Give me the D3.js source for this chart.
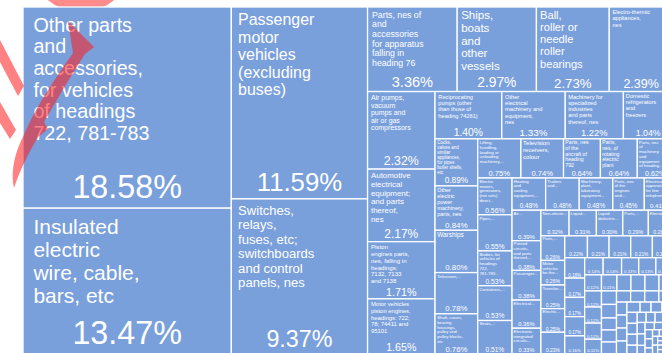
<!DOCTYPE html>
<html>
<head>
<meta charset="utf-8">
<script src="https://cdn.jsdelivr.net/npm/d3@7"></script>
<style>
  html, body { margin: 0; padding: 0; background: #fff; overflow: hidden; }
  svg { display: block; }
</style>
</head>
<body>
<svg id="chart" width="662" height="353"></svg>
<script>
// Export shares by product (percent of total)
const products = [
  "Other parts and accessories, for vehicles of headings 722, 781-783",
  "Insulated electric wire, cable, bars, etc",
  "Passenger motor vehicles (excluding buses)",
  "Switches, relays, fuses, etc; switchboards and control panels, nes",
  "Parts, nes of and accessories for apparatus falling in heading 76",
  "Ships, boats and other vessels",
  "Ball, roller or needle roller bearings",
  "Electro-thermic appliances, nes",
  "Air pumps, vacuum pumps and air or gas compressors",
  "Automotive electrical equipment; and parts thereof, nes",
  "Piston engines parts, nes, falling in headings: 7132, 7133 and 7138",
  "Motor vehicles piston engines, headings: 722; 78; 74411 and 95101",
  "Reciprocating pumps (other than those of heading 74281)",
  "Other electrical machinery and equipment, nes",
  "Machinery for specialized industries and parts thereof, nes",
  "Domestic refrigerators and freezers",
  "Cocks, valves and similar appliances, for pipes boiler shells, etc",
  "Other electric power machinery, parts, nes",
  "Warships",
  "Television, radio-broadcasting; transmitters, etc",
  "Shaft, cases, bearing housings, pulley and pulley blocks, etc",
  "Lifting, handling, loading or unloading machinery, telphers and conveyors",
  "Television receivers, colour",
  "Parts, nes of the aircraft of heading 792",
  "Parts, nes, of rotating electric plant",
  "Parts, nes of machinery and equipment of heading 7849 and 7868",
  "Electric motors, generators, (not sets) direct current, etc",
  "Pipes, thermoplastic, and fittings therefor",
  "Bodies, for vehicles of headings 722, 781-783 (including cabs)",
  "Containers, refrigerated, for transport",
  "Seats, upholstered, with metal frames",
  "Heating and cooling equipment, separation machinery and parts thereof, nes",
  "Trailers and semi-trailers; parts, nes of vehicles of heading 786",
  "Machinery, plant, laboratory equipment for heating and cooling",
  "Parts, nes of the engines and motors of heading 714 and item 71881",
  "Electrical apparatus for line telephony or line telegraphy",
  "Air conditioning machines and parts thereof, nes",
  "Printed circuits, and parts thereof, nes",
  "Passenger transport vehicles, nes",
  "Electrical equipment for internal combustion engines",
  "Electronic integrated circuits and microassemblies",
  "Non-electric engines and motors, nes",
  "Liquid elevators; parts of liquid pumps",
  "Liquid dielectric transformers, parts",
  "Parts, accessories of electro-diagnostic apparatus",
  "Electro-mechanical domestic appliances, parts",
  "Parts, accessories for tractors, nes",
  "Motor vehicles for the transport of goods",
  "Transformers, electrical, nes",
  "Electric accumulators (storage batteries)",
  "Motorcycles, auto-cycles; side-cars",
  "Sound recorders or reproducers",
  "Spark-ignition reciprocating engines",
  "Thermostats and manostats",
  "Hydraulic power engines and motors",
  "Tools for working in the hand, pneumatic",
  "Gas turbines, nes",
  "Filtering and purifying machinery",
  "Fork-lift trucks",
  "Electric sound or visual signalling apparatus",
  "Lamps and lighting fittings, nes",
  "Batteries, primary cells",
  "Bulldozers, graders and levellers",
  "Hand tools, interchangeable",
  "Packing and wrapping machinery",
  "Taps, cocks and valves, parts",
  "Electric filament lamps",
  "Carbon electrodes",
  "Sewing machines",
  "Fans, ventilating",
  "Weighing machinery",
  "Wheels and parts for tractors",
  "Glass mirrors",
  "Electric conductors, nes",
  "Boilers, steam generating",
  "Pulleys and shaft couplings",
  "Railway vehicles, parts",
  "Pressure-reducing valves",
  "Centrifuges",
  "Insulating fittings",
  "Sparking plugs",
  "Springs and leaves for springs",
  "Bicycles, non-motorized",
  "Locks and padlocks",
  "Cranes, derricks",
  "Electric ignition equipment",
  "Safety glass",
  "Nails, screws and bolts",
  "Microphones and loudspeakers",
  "Refrigerating equipment, parts",
  "Wound electric coils",
  "Gaskets and joints",
  "Industrial robots",
  "Electric space heaters",
  "Vacuum cleaners",
  "Spray guns",
  "Chain and parts thereof",
  "Rubber belting",
  "Tyres, new, for buses",
  "Hand-held power drills",
  "Hair clippers",
  "Ceramic insulators",
  "Winches and capstans",
  "Traffic control equipment",
  "Sound signalling apparatus",
  "Lawn mowers",
  "Outboard motors",
  "Drawing instruments",
  "Gear boxes",
  "Aircraft engines",
  "Electric kilns",
  "Tramway cars",
  "Glazed tiles",
  "Brake linings",
  "Wire rope",
  "Snow ploughs",
  "Harvester parts",
  "Diving suits",
  "Parachutes",
  "Lifeboats",
  "Anchors",
  "Buoys",
  "Hovercraft",
  "Steam turbines",
  "Rotary printing presses",
  "Mine locomotives",
  "Fire engines"
];

const shares = [
  18.58, 13.47, 11.59, 9.37,
  3.36, 2.97, 2.73, 2.39,
  2.32, 2.17, 1.71, 1.65,
  1.40, 1.33, 1.22, 1.04,
  0.89, 0.84, 0.80, 0.78, 0.76,
  0.75, 0.74, 0.64, 0.64, 0.62,
  0.56, 0.55, 0.53, 0.53, 0.51,
  0.48, 0.48, 0.48, 0.45, 0.41,
  0.39, 0.38, 0.38, 0.36, 0.33,
  0.32, 0.31, 0.30, 0.29, 0.28,
  0.26, 0.26, 0.25, 0.25, 0.23,
  0.22, 0.21, 0.21, 0.21, 0.20,
  0.18, 0.17, 0.17, 0.17, 0.16,
  0.14, 0.14, 0.13, 0.13, 0.13,
  0.12, 0.12, 0.12, 0.12, 0.11,
  0.11, 0.10, 0.10, 0.10, 0.10,
  0.09, 0.09, 0.08, 0.08, 0.08,
  0.07, 0.07, 0.07, 0.07,
  0.06, 0.06, 0.06, 0.06, 0.06,
  0.05, 0.05, 0.05, 0.05, 0.05, 0.05,
  0.04, 0.04, 0.04, 0.04, 0.04, 0.04, 0.04,
  0.03, 0.03, 0.03, 0.03, 0.03, 0.03,
  0.02, 0.02, 0.02, 0.02, 0.02, 0.02,
  0.01, 0.01, 0.01, 0.01, 0.01, 0.01, 0.01, 0.01, 0.01, 0.01, 0.01, 0.01
];

// ---- layout ----
const MAP_X = 23, MAP_Y = 7, MAP_W = 650, MAP_H = 347;
const BLUE = "#7aa0dc";
const FONT = '"Liberation Sans", Arial, Helvetica, sans-serif';
const MIN_FONT = 4.3, LINE_H = 1.1;
const fmtPct = v => d3.format(".2f")(v) + "%";

const svg = d3.select("#chart");

// soft red emblem peeking above the map
svg.append("circle")
  .attr("cx", 81).attr("cy", -40).attr("r", 52)
  .attr("fill", "#ff8c8c");

const root = d3.hierarchy({ children: products.map((name, i) => ({ name, value: shares[i] })) })
  .sum(d => d.value || 0)
  .sort((a, b) => b.value - a.value);

d3.treemap()
  .tile(d3.treemapSquarify.ratio(1))
  .size([MAP_W, MAP_H])
  .round(false)(root);

const map = svg.append("g").attr("transform", `translate(${MAP_X},${MAP_Y})`);

// text measuring with the same SVG font that is drawn
const probe = svg.append("text")
  .attr("font-family", FONT)
  .attr("x", -1000).attr("y", -1000)
  .attr("visibility", "hidden");
const widthCache = new Map();
function tw(t, s) {
  const key = t + "|" + s.toFixed(3);
  if (widthCache.has(key)) return widthCache.get(key);
  probe.attr("font-size", s).text(t);
  const v = probe.node().getComputedTextLength();
  widthCache.set(key, v);
  return v;
}

function wrapWords(words, fs, wrapW) {
  const lines = []; let cur = ""; let broken = false;
  for (const wd of words) {
    if (tw(wd, fs) > wrapW) {
      broken = true;
      if (cur) lines.push(cur);
      else if (!lines.length) lines.push(wd);
      cur = "";
      break;
    }
    const test = cur ? cur + " " + wd : wd;
    if (!cur || tw(test, fs) <= wrapW) cur = test;
    else { lines.push(cur); cur = wd; }
  }
  if (cur) lines.push(cur);
  return { lines, broken };
}

function fitLabel(name, w, availH, wrapW, innerW) {
  const words = name.split(/\s+/);
  const maxF = Math.min(21, 0.12 * w + 3);
  const ok = fs => {
    const r = wrapWords(words, fs, wrapW);
    return (!r.broken && r.lines.length * fs * LINE_H <= availH) ? r.lines : null;
  };
  for (let fs = maxF; fs >= MIN_FONT; fs -= 0.25) {
    const lines = ok(fs);
    if (lines) {
      // refine upwards to the largest size that still fits
      for (let f = Math.min(maxF, fs + 0.24); f > fs; f -= 0.02) {
        const l2 = ok(f);
        if (l2) return { fs: f, lines: l2 };
      }
      return { fs, lines };
    }
  }
  const fs = MIN_FONT;
  const maxL = Math.floor(availH / (fs * LINE_H));
  if (maxL < 1) return null;
  let { lines, broken } = wrapWords(words, fs, wrapW);
  if (lines.length > maxL) { lines = lines.slice(0, maxL); broken = true; }
  if (broken) {
    let last = lines[lines.length - 1] + "...";
    while (tw(last, fs) > innerW && last.length > 4) last = last.slice(0, last.length - 4) + "...";
    if (tw(last, fs) > innerW) return null;
    lines[lines.length - 1] = last;
  }
  return { fs, lines };
}

const cells = map.selectAll("g.cell")
  .data(root.leaves())
  .join("g")
  .attr("class", "cell")
  .attr("transform", d => `translate(${d.x0},${d.y0})`);

cells.append("rect")
  .attr("width", d => d.x1 - d.x0)
  .attr("height", d => d.y1 - d.y0)
  .attr("fill", BLUE)
  .attr("stroke", "#fff")
  .attr("stroke-width", 1.3);

cells.each(function (d) {
  const g = d3.select(this);
  const w = d.x1 - d.x0, h = d.y1 - d.y0, area = w * h;
  const pad = Math.max(1.5, Math.min(11, 0.05 * w));
  let labelBottom = h - pad;

  if (area >= 240) {
    const txt = fmtPct(d.data.value);
    let ps = Math.max(MIN_FONT, 0.15 * Math.sqrt(area) + 1.5, 0.155 * w);
    const pw = tw(txt, ps);
    if (pw > 0.85 * w) ps = ps * 0.85 * w / pw;
    if (ps >= 3.9 && ps * 1.1 < h) {
      const base = h - Math.max(1.5, 0.3 * ps);
      g.append("text")
        .attr("x", w / 2).attr("y", base)
        .attr("text-anchor", "middle")
        .attr("font-family", FONT).attr("font-size", ps)
        .attr("fill", "#fff")
        .text(txt);
      labelBottom = base - ps * 0.78 - Math.max(1, 0.15 * ps);
    }
  }

  if (area >= 530) {
    const wrapW = Math.max(0.53 * w + 4, 0.57 * w - 2.6), innerW = w - 2 * pad;
    const fit = fitLabel(d.data.name, w, labelBottom - pad, wrapW, innerW);
    if (fit) {
      const t = g.append("text")
        .attr("font-family", FONT).attr("font-size", fit.fs)
        .attr("fill", "#fff");
      fit.lines.forEach((ln, i) => {
        t.append("tspan")
          .attr("x", pad)
          .attr("y", pad + 0.72 * fit.fs + i * fit.fs * LINE_H)
          .text(ln);
      });
    }
  }
});
probe.remove();

// red brush strokes drawn over the left edge
const strokes = svg.append("g").attr("fill", "#ff1a1a").attr("fill-opacity", 0.55);
strokes.append("path").attr("d",
  "M68,21 L94,47 L85,54 C72,74 58,98 44,122 L48,129 L38,137 C29,152 20,170 14,188 C11,176 13,158 21,141 L27,128 C38,104 54,80 73,53 Z");
strokes.append("path").attr("d", "M0,40 L24,86 L18,96 L0,62 Z");
strokes.append("path").attr("d", "M0,102 L16,130 L10,139 L0,123 Z");
</script>
</body>
</html>
